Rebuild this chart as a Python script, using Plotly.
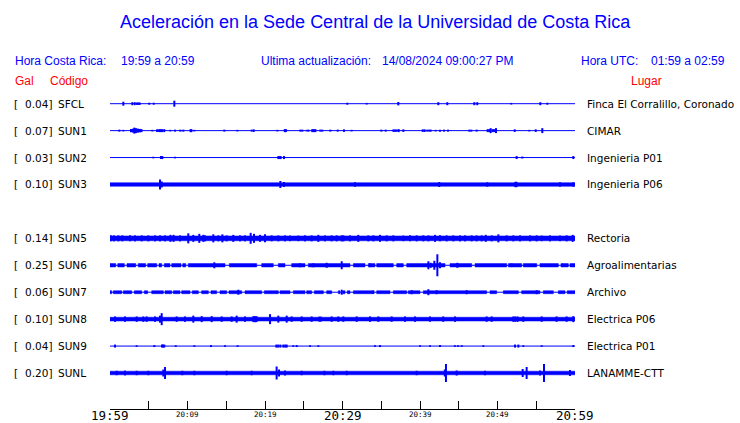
import plotly.graph_objects as go

# ---------------- data ----------------
STATIONS = ["SFCL", "SUN1", "SUN2", "SUN3", "SUN5", "SUN6", "SUN7", "SUN8", "SUN9", "SUNL"]
GAL = ["0.04", "0.07", "0.03", "0.10", "0.14", "0.25", "0.06", "0.10", "0.04", "0.20"]
LUGAR = ["Finca El Corralillo, Coronado", "CIMAR", "Ingenieria P01", "Ingenieria P06",
         "Rectoria", "Agroalimentarias", "Archivo", "Electrica P06", "Electrica P01", "LANAMME-CTT"]
ROW_SLOT = [0, 1, 2, 3, 5, 6, 7, 8, 9, 10]
# background noise half-amplitude of each trace
NOISE = [0.0, 0.0, 0.0, 1.8, 2.4, 1.7, 1.5, 1.9, 0.0, 1.8]

TIME_TICKS = [0, 5, 10, 15, 20, 25, 30, 35, 40, 45, 50, 55, 60]
TIME_LABELS = {0: "19:59", 10: "20:09", 20: "20:19", 30: "20:29", 40: "20:39", 50: "20:49", 60: "20:59"}
MAJOR_LABELS = [0, 30, 60]

# events: (minute after 19:59, half amplitude)
EV_SFCL = [(1.72, 2), (2.88, 1.5), (3.19, 1.5), (3.48, 1.2), (3.65, 1.2), (3.83, 1.2), (5.07, 1),
           (5.64, 1), (8.30, 3), (30.62, 1), (33.12, 0.8), (37.20, 1.7), (42.36, 1.5), (43.52, 1.5),
           (47.01, 1.5), (47.39, 1.5), (51.78, 0.8), (55.52, 1.5), (56.43, 1)]
EV_SUN1 = [(1.2, 1), (1.72, 0.8), (2.71, 1.7), (2.97, 2), (3.14, 3), (3.35, 2.5), (3.61, 2), (3.87, 1.7),
           (4.06, 1.5), (5.46, 0.8), (6.06, 1.3), (6.23, 1.3), (6.45, 1.5), (6.7, 1.5), (7.0, 1.5),
           (7.78, 0.8), (8.39, 1), (9.08, 1), (9.46, 1), (10.4, 1.5), (10.5, 1.5), (10.88, 0.8),
           (14.75, 1), (16.43, 0.8), (18.28, 1), (18.54, 1.3), (21.59, 0.8), (22.55, 1.5), (22.7, 1.5),
           (24.56, 1), (24.81, 1), (25.38, 0.8), (25.6, 1), (26.1, 1.5), (26.3, 1.5), (26.5, 1.5),
           (27.14, 1), (27.39, 1), (28.43, 1), (29.38, 1), (30.19, 1.3), (31.18, 0.8), (35.01, 1),
           (35.57, 1), (36.56, 1.2), (36.77, 1.2), (36.99, 1.2), (37.25, 1.5), (37.85, 1.3),
           (40.35, 1.3), (40.6, 1.3), (40.95, 1), (41.2, 1), (41.38, 1), (42.02, 0.8), (42.58, 1),
           (43.1, 1), (43.61, 1), (46.36, 1), (46.62, 1), (47.31, 1), (48.73, 1.5), (48.95, 1.5),
           (49.12, 2.5), (49.4, 1.5), (49.6, 1.5), (49.81, 2.5), (52.22, 1.3), (54.1, 0.8), (54.93, 1.3),
           (55.78, 2.5)]
EV_SUN2 = [(5.59, 0.8), (6.58, 1.5), (6.75, 1.5), (8.39, 0.8), (21.72, 1.5), (21.9, 1.5), (22.02, 1.5),
           (22.45, 1.5), (52.47, 1.5), (53.2, 1), (59.78, 1.5)]
EV_SUN3 = [(6.45, 5), (6.67, 3), (21.98, 3.5), (22.45, 2.5), (31.61, 2.3), (42.49, 2.5), (48.69, 2.2),
           (52.3, 2.7), (52.45, 2.7), (58.06, 2.2), (59.78, 2.2)]
EV_SUN5 = [(0.1, 3), (0.5, 3), (1.08, 3), (1.6, 3), (2.58, 3), (3.23, 3), (4.09, 3), (4.95, 3), (5.81, 3),
           (6.45, 3), (7.1, 3), (7.8, 3.5), (8.2, 3.5), (9.03, 3), (10.1, 5), (10.75, 3.5), (11.52, 4.5),
           (12.04, 3.5), (12.26, 3), (13.33, 4), (13.98, 3), (14.5, 4), (15.05, 3), (15.91, 3.5),
           (16.77, 3), (17.42, 3), (18.15, 5.5), (18.58, 4.5), (19.35, 3.5), (20.0, 4), (20.86, 3),
           (21.72, 3), (22.58, 3), (23.23, 2.8), (24.3, 2.8), (25.16, 3), (26.02, 3), (26.88, 3.5),
           (27.74, 3), (28.6, 3), (29.25, 3), (29.9, 3), (30.11, 3), (30.97, 3), (32.04, 3.5), (33.33, 3),
           (33.98, 3), (34.84, 3.5), (35.7, 3), (36.56, 3), (37.85, 2.8), (38.71, 3), (39.57, 3),
           (40.43, 3), (41.08, 3), (41.94, 3.5), (42.58, 3), (43.44, 3), (44.3, 3), (45.16, 3),
           (45.81, 3), (46.67, 3), (47.31, 3), (47.96, 3), (48.48, 3.5), (49.25, 3), (50.11, 4),
           (51.18, 3), (52.04, 3), (52.9, 3), (54.19, 3), (55.05, 3), (55.7, 2.8), (56.77, 3),
           (58.06, 2.8), (58.92, 3), (59.7, 3.5)]
EV_SUN6 = [(13.46, 3), (24.5, 2), (26.24, 2), (27.96, 2.5), (29.9, 4), (33.55, 1.8), (41.08, 4),
           (41.38, 2.5), (41.85, 4.5), (42.24, 11), (42.58, 3), (44.82, 2.5), (51.83, 1.8), (58.28, 1.8)]
EV_SUN7 = [(16.56, 2.5), (29.9, 2.5), (33.98, 1.8), (38.93, 2), (41.08, 3), (42.15, 2), (46.02, 2),
           (55.06, 2)]
EV_SUN8 = [(0.65, 2.7), (1.94, 2.7), (3.44, 2.7), (4.3, 2.7), (4.73, 2.7), (5.81, 2.7), (6.45, 3.5),
           (6.67, 6), (8.6, 2.7), (9.68, 2.7), (10.75, 3.5), (11.83, 3), (13.12, 3), (14.41, 2.7),
           (15.7, 2.7), (16.34, 3.5), (17.42, 2.7), (18.5, 3), (18.7, 3), (18.9, 3), (20.65, 5),
           (21.72, 3.5), (22.8, 3.5), (23.44, 2.7), (24.73, 2.7), (26.02, 2.7), (27.0, 2.5), (27.2, 2.5),
           (28.6, 2.7), (29.46, 2.7), (30.11, 2.7), (31.83, 2.7), (33.55, 2.7), (34.62, 2.7), (36.34, 2.7),
           (38.06, 2.7), (39.35, 2.7), (41.29, 2.7), (43.0, 2.7), (44.52, 2.7), (48.6, 2.7), (49.25, 2.7),
           (52.04, 2.7), (52.3, 2.7), (52.6, 2.7), (53.33, 2.7), (55.7, 2.7), (57.63, 2.7), (58.92, 2.7),
           (59.78, 3)]
EV_SUN9 = [(0.65, 1.5), (3.44, 0.8), (5.72, 1), (6.71, 1.5), (6.85, 1.5), (7.0, 1.5), (8.48, 0.8),
           (10.88, 0.8), (13.03, 1), (14.84, 0.8), (16.47, 0.8), (21.46, 1.5), (21.7, 1.5), (21.98, 1.5),
           (22.36, 1.5), (22.6, 1.5), (22.8, 1.5), (23.65, 0.8), (24.09, 1), (25.8, 0.8), (26.88, 0.8),
           (34.19, 0.8), (34.84, 1), (40.0, 0.8), (41.29, 0.8), (42.58, 1), (44.5, 0.8), (44.9, 0.8),
           (45.38, 0.8), (48.17, 0.8), (52.26, 1.5), (52.69, 1.5), (53.33, 0.8), (55.7, 0.8), (59.78, 1)]
EV_SUNL = [(0.86, 2.2), (1.94, 2.4), (3.44, 2.2), (4.95, 2.2), (6.88, 3.5), (7.1, 6), (9.33, 2.2),
           (10.88, 2.2), (15.05, 2.2), (18.28, 2.2), (21.5, 6.5), (21.81, 3.5), (22.58, 2.5),
           (24.73, 2.2), (27.66, 2.2), (28.82, 2.2), (30.54, 2.2), (39.57, 2.2), (43.2, 3.5),
           (43.35, 9), (44.73, 2.5), (48.39, 2.2), (53.25, 4), (53.76, 6), (55.48, 2.5), (56.0, 9),
           (59.35, 3)]
EVENTS = [EV_SFCL, EV_SUN1, EV_SUN2, EV_SUN3, EV_SUN5, EV_SUN6, EV_SUN7, EV_SUN8, EV_SUN9, EV_SUNL]

# quiet stretches (start, end minute) where the noise band thins to the baseline
GAPS_SUN6 = [(0.74, 1.0), (1.85, 2.19), (3.32, 3.65), (4.6, 4.86), (6.03, 6.32), (6.67, 7.01),
             (7.74, 7.96), (9.16, 9.38), (9.77, 10.1), (14.84, 15.4), (18.93, 19.57), (21.07, 21.72),
             (22.58, 23.44), (25.16, 25.59), (30.97, 31.4), (32.9, 33.33), (34.19, 34.41),
             (36.56, 36.99), (37.85, 38.28), (43.23, 43.87), (46.67, 47.1), (51.19, 51.4),
             (53.12, 53.33), (55.06, 55.48), (57.85, 58.28), (59.14, 59.35)]
GAPS_SUN7 = [(0.22, 0.43), (1.51, 1.72), (2.8, 3.14), (4.09, 4.43), (4.86, 5.38), (6.88, 7.1),
             (7.96, 8.17), (9.03, 9.25), (10.32, 10.62), (11.40, 11.83), (12.69, 13.03), (13.76, 14.19),
             (15.05, 15.35), (16.99, 17.42), (19.57, 19.91), (21.72, 21.94), (23.23, 23.66),
             (25.16, 25.38), (26.02, 26.37), (27.53, 27.96), (28.6, 29.46), (29.68, 30.02),
             (30.32, 30.62), (30.97, 31.4), (33.98, 34.41), (36.13, 36.56), (38.28, 38.49), (40.0, 40.43),
             (48.6, 49.03), (49.89, 50.75), (52.69, 53.12), (55.48, 55.91), (57.2, 57.85), (58.71, 59.0)]
GAPS = [[], [], [], [], [], GAPS_SUN6, GAPS_SUN7, [], [], []]

# ---------------- layout helpers ----------------
W, H = 740, 423
ML, MR, MT, MB = 110, 165, 88, 14
PLOT_TOP, PLOT_BOT = MT, H - MB
ROW0, ROW_STEP = 103.7, 26.93
BLUE = "#0000ff"
RED = "#ff0000"
PAD = 2  # annotation inner padding compensation


def px_x(px):
    return (px - ML) / (W - ML - MR)


def px_y(py):
    return (PLOT_BOT - py) / (PLOT_BOT - PLOT_TOP)


fig = go.Figure()
T0, T1 = TIME_TICKS[0], TIME_TICKS[-1]

for i, st in enumerate(STATIONS):
    c = ROW0 + ROW_STEP * ROW_SLOT[i]
    # baseline
    fig.add_trace(go.Scatter(x=[T0, T1], y=[c, c], mode="lines",
                             line=dict(color=BLUE, width=1), hoverinfo="skip", showlegend=False))
    # noise band
    n = NOISE[i]
    if n > 0:
        segs = []
        start = T0
        for g0, g1 in sorted(GAPS[i]):
            segs.append((start, g0))
            start = g1
        segs.append((start, T1))
        bx, by = [], []
        for a, b in segs:
            bx += [a, b, b, a, a, None]
            by += [c - n, c - n, c + n, c + n, c - n, None]
        fig.add_trace(go.Scatter(x=bx, y=by, mode="lines", fill="toself", fillcolor=BLUE,
                                 line=dict(color=BLUE, width=0.5), hoverinfo="skip", showlegend=False))
    # events
    ex, ey = [], []
    for t, a in EVENTS[i]:
        ex += [t, t, None]
        ey += [c - a, c + a, None]
    fig.add_trace(go.Scatter(x=ex, y=ey, mode="lines", line=dict(color=BLUE, width=2),
                             hoverinfo="skip", showlegend=False))

ann = []
# title
ann.append(dict(text="Aceleración en la Sede Central de la Universidad de Costa Rica",
                x=px_x(375.5), y=px_y(22), xanchor="center", yanchor="middle",
                font=dict(family="Liberation Sans", size=18, color=BLUE)))
hdr = dict(family="Liberation Sans", size=12, color=BLUE)
for txt, x0 in [("Hora Costa Rica:", 15), ("19:59 a 20:59", 121), ("Ultima actualización:", 261),
                ("14/08/2024 09:00:27 PM", 381.5), ("Hora UTC:", 580.5), ("01:59 a 02:59", 651)]:
    ann.append(dict(text=txt, x=px_x(x0 - PAD), y=px_y(61), xanchor="left", yanchor="middle", font=hdr))
red = dict(family="Liberation Sans", size=12, color=RED)
for txt, x0 in [("Gal", 15), ("Código", 50), ("Lugar", 630.5)]:
    ann.append(dict(text=txt, x=px_x(x0 - PAD), y=px_y(81), xanchor="left", yanchor="middle", font=red))

lab = dict(family="DejaVu Sans", size=10.5, color="black")
for i, st in enumerate(STATIONS):
    c = ROW0 + ROW_STEP * ROW_SLOT[i]
    ann.append(dict(text="[", x=px_x(14 - PAD), y=px_y(c), xanchor="left", yanchor="middle", font=lab))
    ann.append(dict(text=GAL[i] + "]", x=px_x(54), y=px_y(c), xanchor="right", yanchor="middle",
                    font=lab))
    ann.append(dict(text=st, x=px_x(57.5 - PAD), y=px_y(c), xanchor="left", yanchor="middle", font=lab))
    ann.append(dict(text=LUGAR[i], x=px_x(586.5 - PAD), y=px_y(c), xanchor="left", yanchor="middle",
                    font=lab))

for t, s in TIME_LABELS.items():
    big = t in MAJOR_LABELS
    ann.append(dict(text=s, x=t, xref="x", y=px_y(415.5 if big else 414.5), xanchor="center",
                    yanchor="middle",
                    font=dict(family="DejaVu Sans Mono", size=12.5 if big else 7.5, color="black")))

for a in ann:
    a.setdefault("xref", "paper")
    a["yref"] = "paper"
    a["showarrow"] = False

fig.update_layout(
    width=W, height=H, margin=dict(l=ML, r=MR, t=MT, b=MB, autoexpand=False),
    paper_bgcolor="white", plot_bgcolor="white", annotations=ann, showlegend=False,
    xaxis=dict(range=[T0, T1], tickvals=TIME_TICKS, ticks="inside", ticklen=8, tickcolor="black",
               tickwidth=1, showticklabels=False, showline=True, linecolor="black", linewidth=1,
               showgrid=False, zeroline=False, fixedrange=True),
    yaxis=dict(range=[PLOT_BOT, PLOT_TOP], visible=False, showgrid=False, zeroline=False, fixedrange=True),
)
fig.write_html("out.html", config={"displayModeBar": False},
               post_script="document.body.style.margin='0px';document.body.style.overflow='hidden';")
